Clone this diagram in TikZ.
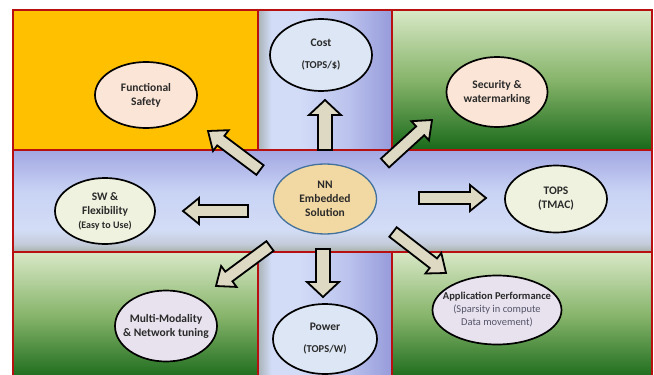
\documentclass[tikz,border=0pt]{standalone}
\usepackage{fontspec}
\setmainfont{Carlito}
\usetikzlibrary{calc,shapes.geometric}
\definecolor{framered}{HTML}{B81010}
\definecolor{orangefill}{HTML}{FFC000}
\definecolor{gtop}{HTML}{D8E8C6}
\definecolor{gmid}{HTML}{86B46A}
\definecolor{gbot}{HTML}{19691A}
\definecolor{s1}{HTML}{A2A7E2}
\definecolor{s2}{HTML}{C8D2F4}
\definecolor{s3}{HTML}{D3DDF6}
\definecolor{s4}{HTML}{C4CCDA}
\definecolor{s5}{HTML}{A6B0A6}
\definecolor{c0}{HTML}{A7B3B6}
\definecolor{c1}{HTML}{D3DCF7}
\definecolor{c2}{HTML}{BCC4EE}
\definecolor{c3}{HTML}{969BDA}
\definecolor{peach}{HTML}{FBE5D6}
\definecolor{lblue}{HTML}{DCE6F4}
\definecolor{cream}{HTML}{EEF2DE}
\definecolor{lav}{HTML}{E8E2EE}
\definecolor{papyrus}{HTML}{F2D8A2}
\definecolor{nnborder}{HTML}{41719C}
\definecolor{arrowfill}{HTML}{DDD9C3}
\definecolor{txt}{HTML}{2A2A2A}
\definecolor{txtlight}{HTML}{55556A}
\pgfdeclareverticalshading{greenv}{100bp}{color(0bp)=(gbot);color(25bp)=(gbot);color(50bp)=(gmid);color(75bp)=(gtop);color(100bp)=(gtop)}
\pgfdeclareverticalshading{stripv}{100bp}{color(0bp)=(s5);color(25bp)=(s5);color(29bp)=(s4);color(36bp)=(s3);color(55bp)=(s2);color(75bp)=(s1);color(100bp)=(s1)}
\pgfdeclarehorizontalshading{colh}{100bp}{color(0bp)=(c0);color(25bp)=(c0);color(30bp)=(c1);color(40bp)=(c1);color(58bp)=(c2);color(75bp)=(c3);color(100bp)=(c3)}
\tikzset{
  boxframe/.style={draw=framered, line width=2pt},
  ell/.style={ellipse, draw=black, line width=1.7pt, inner sep=0pt},
  lbl/.style={align=center, text=txt, font=\fontsize{11.5}{14}\selectfont\bfseries},
  blockarrow/.style={draw=black, line width=1.8pt, fill=arrowfill, line join=miter},
}
\newcommand\barrow[5]{% start, end, shaft half width, head half width, head length
  \coordinate (h) at ($(#2)!#5!(#1)$);
  \draw[blockarrow] ($(#1)!#3!90:(#2)$) -- ($(h)!#3!-90:(#1)$) -- ($(h)!#4!-90:(#1)$) -- (#2)
    -- ($(h)!#4!90:(#1)$) -- ($(h)!#3!90:(#1)$) -- ($(#1)!#3!-90:(#2)$) -- cycle;}
\begin{document}
\begin{tikzpicture}[x=1pt,y=-1pt]
\useasboundingbox (0,0) rectangle (654,375);
\clip (0,0) rectangle (654,375);
\fill[white] (0,0) rectangle (654,375);
% middle column
\shade[shading=colh] (258,10) rectangle (392,380);
\draw[boxframe] (258,10) rectangle (392,150);
\draw[boxframe] (258,252) rectangle (392,380);
% top-left orange
\fill[orangefill] (13,10) rectangle (258,150);
\draw[boxframe] (13,10) rectangle (258,150);
% top-right green
\shade[shading=greenv] (392,10) rectangle (652,150);
\draw[boxframe] (392,10) rectangle (652,150);
% bottom greens
\shade[shading=greenv] (13,252) rectangle (258,380);
\draw[boxframe] (13,252) rectangle (258,380);
\shade[shading=greenv] (392,252) rectangle (652,380);
\draw[boxframe] (392,252) rectangle (652,380);
% middle strip
\shade[shading=stripv] (13,150) rectangle (652,252);
\draw[boxframe] (13,150) rectangle (652,252);

% ellipses
\node[ell, fill=peach, minimum width=102pt, minimum height=66pt] (fs) at (146,95) {};
\node[lbl] (fs-t) at (fs.center) {Functional\\Safety};
\node[ell, fill=lblue, minimum width=102pt, minimum height=72pt] (cost) at (321,55) {};
\node[lbl] (cost-t) at (cost.center) {Cost\\[8pt]\fontsize{10.5}{12}\selectfont(TOPS/\$)};
\node[ell, fill=peach, minimum width=101pt, minimum height=70pt] (sec) at (497,92) {};
\node[lbl] (sec-t) at (sec.center) {Security \&\\watermarking};
\node[ell, fill=cream, minimum width=100pt, minimum height=66pt] (sw) at (105,211) {};
\node[lbl] (sw-t) at (sw.center) {SW \&\\Flexibility\\\fontsize{10}{12}\selectfont(Easy to Use)};
\node[ell, draw=nnborder, line width=1.3pt, fill=papyrus, minimum width=103pt, minimum height=70pt] (nn) at (325,199) {};
\node[lbl] (nn-t) at (nn.center) {NN\\Embedded\\Solution};
\node[ell, fill=cream, minimum width=102pt, minimum height=67pt] (tops) at (556,199) {};
\node[lbl] (tops-t) at (tops.center) {TOPS\\(TMAC)};
\node[ell, fill=lav, minimum width=102pt, minimum height=71pt] (mm) at (166,326) {};
\node[lbl] (mm-t) at (mm.center) {Multi-Modality\\\& Network tuning};
\node[ell, fill=lblue, minimum width=104pt, minimum height=70pt] (pw) at (325,339) {};
\node[lbl] (pw-t) at (pw.center) {Power\\[8pt]\fontsize{10.5}{12}\selectfont(TOPS/W)};
\node[ell, fill=lav, minimum width=129pt, minimum height=69pt] (app) at (497,310) {};
\node[lbl, font=\fontsize{10.5}{13}\selectfont\bfseries] (app-t) at (app.center) {Application Performance\\{\mdseries\color{txtlight}(Sparsity in compute}\\{\mdseries\color{txtlight}Data movement)}};

% arrow end points
\coordinate (aup0) at (325,150);  \coordinate (aup1) at (325,100);
\coordinate (adn0) at (323,249);  \coordinate (adn1) at (323,297);
\coordinate (alf0) at (248,211);  \coordinate (alf1) at (183,211);
\coordinate (art0) at (419,198);  \coordinate (art1) at (486,198);
\coordinate (aul0) at (260,170);  \coordinate (aul1) at (208,131);
\coordinate (aur0) at (385,163);  \coordinate (aur1) at (432,120);
\coordinate (adl0) at (270,246);  \coordinate (adl1) at (216,286);
\coordinate (adr0) at (393,232);  \coordinate (adr1) at (446,273);

\barrow{aup0}{aup1}{7pt}{16pt}{15pt}
\barrow{adn0}{adn1}{7pt}{16pt}{15pt}
\barrow{alf0}{alf1}{6pt}{13pt}{16pt}
\barrow{art0}{art1}{6pt}{13pt}{16pt}
\barrow{aul0}{aul1}{6pt}{13pt}{16pt}
\barrow{aur0}{aur1}{6pt}{13pt}{16pt}
\barrow{adl0}{adl1}{6pt}{13pt}{16pt}
\barrow{adr0}{adr1}{6pt}{13pt}{16pt}
\end{tikzpicture}
\end{document}
